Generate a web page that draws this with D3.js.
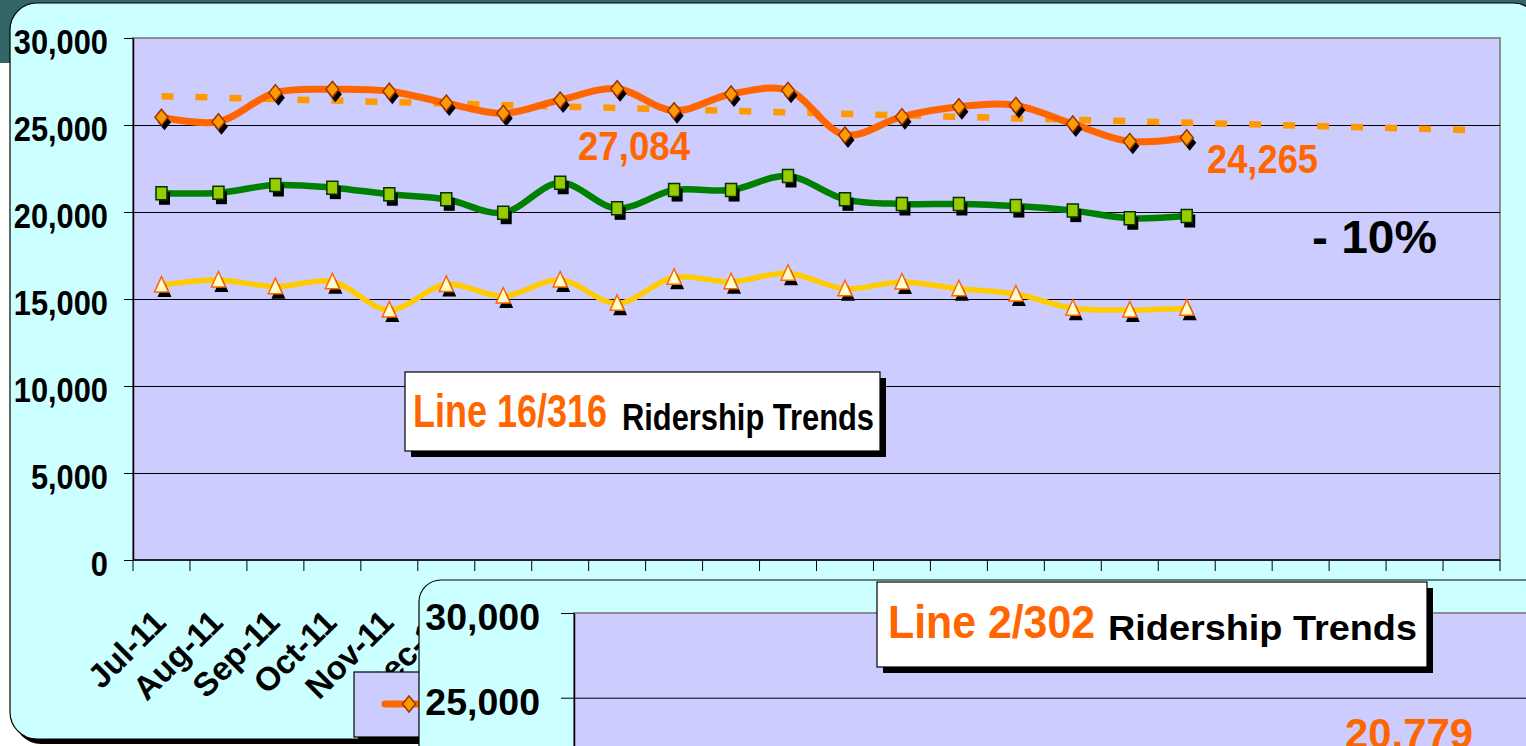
<!DOCTYPE html>
<html>
<head>
<meta charset="utf-8">
<script src="https://cdn.jsdelivr.net/npm/d3@7/dist/d3.min.js"></script>
<style>
  html, body { margin: 0; padding: 0; background: #fff; overflow: hidden; }
  svg { display: block; font-family: "Liberation Sans", Arial, sans-serif; font-weight: bold; }
</style>
</head>
<body>
<svg id="slide" width="1526" height="746"></svg>
<script>
// x categories of the top chart
var months = ["Jul-11", "Aug-11", "Sep-11", "Oct-11", "Nov-11", "Dec-11", "Jan-12", "Feb-12",
    "Mar-12", "Apr-12", "May-12", "Jun-12", "Jul-12", "Aug-12", "Sep-12", "Oct-12", "Nov-12",
    "Dec-12", "Jan-13", "Feb-13", "Mar-13", "Apr-13", "May-13", "Jun-13"];

// monthly riders (Jul-11 .. Jan-13)
var orangeVals = [25450, 25190, 26860, 27050, 26940, 26260, 25670, 26440, 27084, 25820,
    26780, 26990, 24430, 25480, 26050, 26130, 25060, 24060, 24265];
var greenVals = [21075, 21110, 21550, 21400, 21020, 20730, 19960, 21680, 20210, 21260,
    21260, 22070, 20730, 20460, 20460, 20340, 20080, 19640, 19770];
var yellowVals = [15800, 16090, 15710, 15990, 14370, 15840, 15170, 16090, 14750, 16250,
    15990, 16480, 15590, 15980, 15590, 15290, 14470, 14370, 14470];

var yTicks = [0, 5000, 10000, 15000, 20000, 25000, 30000];
var forecastMonths = 5;   // trendline runs this many months past the data

// second (lower) chart, only its top is on screen
var yTicks2 = [25000, 30000];
var lastValue2 = 20779;

var svg = d3.select("#slide");
var fmt = d3.format(",");

// squeeze text horizontally (the slide text is narrow)
function squeeze(sel, k) {
    sel.each(function () {
        this.setAttribute("textLength", this.getComputedTextLength() * k);
        this.setAttribute("lengthAdjust", "spacingAndGlyphs");
    });
}

function card(x, y, w, h, r) {
    svg.append("rect").attr("x", x + 4).attr("y", y + 5).attr("width", w).attr("height", h)
        .attr("rx", r).attr("fill", "#000");
    svg.append("rect").attr("x", x).attr("y", y).attr("width", w).attr("height", h)
        .attr("rx", r).attr("fill", "#CCFFFF").attr("stroke", "#000").attr("stroke-width", 1.2);
}

function titleBox(x, y, w, h, red, black) {
    svg.append("rect").attr("x", x + 6).attr("y", y + 6).attr("width", w).attr("height", h).attr("fill", "#000");
    svg.append("rect").attr("x", x).attr("y", y).attr("width", w).attr("height", h)
        .attr("fill", "#fff").attr("stroke", "#000").attr("stroke-width", 1.2);
    svg.append("text").attr("x", red.x).attr("y", red.y).style("font-size", red.size + "px")
        .attr("fill", "#FF6600").attr("textLength", red.w).attr("lengthAdjust", "spacingAndGlyphs").text(red.t);
    svg.append("text").attr("x", black.x).attr("y", black.y).style("font-size", black.size + "px")
        .attr("fill", "#000").attr("textLength", black.w).attr("lengthAdjust", "spacingAndGlyphs").text(black.t);
}

// slide title bar
svg.append("rect").attr("width", 1526).attr("height", 63).attr("fill", "#336666");

// ---------- chart 1 ----------
card(10, 3, 1530, 736, 27);

var x = d3.scaleBand().domain(months).range([133, 1500]);
var y = d3.scaleLinear().domain([0, 30000]).range([560, 38]);
var cx = function (d, i) { return x(months[i]) + x.bandwidth() / 2; };

svg.append("rect").attr("x", 133).attr("y", 38).attr("width", 1367).attr("height", 522)
    .attr("fill", "#CCCCFF").attr("stroke", "#8c8c8c").attr("stroke-width", 2);

// gridlines
svg.append("g").attr("transform", "translate(133,0)")
    .call(d3.axisLeft(y).tickValues(yTicks.slice(1, -1)).tickSize(-1367).tickFormat(""))
    .call(function (g) { g.select(".domain").remove(); })
    .selectAll("line").attr("stroke", "#000");

// y axis
var yAxis = svg.append("g").attr("transform", "translate(133,0)")
    .call(d3.axisLeft(y).tickValues(yTicks).tickFormat(fmt).tickSize(9).tickSizeOuter(0).tickPadding(16));
yAxis.select(".domain").attr("stroke", "#000").attr("stroke-width", 1.5);
yAxis.selectAll("text").style("font-size", "35px").attr("fill", "#000").attr("dy", "0.44em")
    .style("font-family", "inherit").style("font-weight", "bold");
squeeze(yAxis.selectAll("text"), 0.88);

// x axis with ticks between categories
svg.append("line").attr("x1", 133).attr("x2", 1500).attr("y1", 560).attr("y2", 560)
    .attr("stroke", "#000").attr("stroke-width", 1.5);
svg.append("g").selectAll("line")
    .data(months.concat(["end"])).enter().append("line")
    .attr("x1", function (d) { return d === "end" ? x.range()[1] : x(d); })
    .attr("x2", function (d) { return d === "end" ? x.range()[1] : x(d); })
    .attr("y1", 560).attr("y2", 571).attr("stroke", "#000");

svg.append("g").selectAll("text")
    .data(months).enter().append("text")
    .attr("text-anchor", "end")
    .attr("transform", function (d) { return "translate(" + (x(d) + x.bandwidth() / 2 - 2) + ",616) rotate(-45)"; })
    .attr("dy", "0.35em")
    .style("font-size", "33px")
    .text(function (d) { return d; });

// linear trendline from the orange series, carried forward
var n = orangeVals.length;
var xm = d3.mean(orangeVals, function (d, i) { return i; });
var ym = d3.mean(orangeVals);
var sxy = d3.sum(orangeVals, function (d, i) { return (i - xm) * (d - ym); });
var sxx = d3.sum(orangeVals, function (d, i) { return (i - xm) * (i - xm); });
var slope = sxy / sxx;
var trendEnds = [0, n - 1 + forecastMonths];
svg.append("line")
    .attr("x1", x(months[trendEnds[0]]) + x.bandwidth() / 2)
    .attr("x2", x(months[trendEnds[1]]) + x.bandwidth() / 2)
    .attr("y1", y(ym + slope * (trendEnds[0] - xm)))
    .attr("y2", y(ym + slope * (trendEnds[1] - xm)))
    .attr("stroke", "#FF9900").attr("stroke-width", 6.5).attr("stroke-dasharray", "12,22");

var line = d3.line()
    .x(cx)
    .y(function (d) { return y(d); })
    .curve(d3.curveCatmullRom.alpha(0.5));

var series = [
    { vals: orangeVals, color: "#FF6600", width: 7, shape: "M0,-8L6.5,0L0,8L-6.5,0Z", fill: "#FF9900", edge: "#993300" },
    { vals: greenVals, color: "#008000", width: 6.5, shape: "M-5.5,-6.5H5.5V6.5H-5.5Z", fill: "#99CC00", edge: "#003300" },
    { vals: yellowVals, color: "#FFCC00", width: 5.5, shape: "M0,-8.5L7,7L-7,7Z", fill: "#FFFFCC", edge: "#FF6600" }
];

series.forEach(function (s) {
    svg.append("path").datum(s.vals).attr("d", line)
        .attr("fill", "none").attr("stroke", s.color).attr("stroke-width", s.width);
});

series.forEach(function (s) {
    var g = svg.append("g");
    // marker shadows
    g.selectAll(".shadow").data(s.vals).enter().append("path")
        .attr("d", s.shape).attr("fill", "#000")
        .attr("transform", function (d, i) { return "translate(" + (cx(d, i) + 3) + "," + (y(d) + 5) + ")"; });
    g.selectAll(".mark").data(s.vals).enter().append("path")
        .attr("d", s.shape).attr("fill", s.fill).attr("stroke", s.edge).attr("stroke-width", 1.5)
        .attr("transform", function (d, i) { return "translate(" + cx(d, i) + "," + y(d) + ")"; });
});

// value labels
svg.append("text").attr("x", 578).attr("y", 160).style("font-size", "40px").attr("fill", "#FF6600")
    .attr("textLength", 112).attr("lengthAdjust", "spacingAndGlyphs").text(fmt(d3.max(orangeVals)));
svg.append("text").attr("x", 1207).attr("y", 173).style("font-size", "40px").attr("fill", "#FF6600")
    .attr("textLength", 111).attr("lengthAdjust", "spacingAndGlyphs").text(fmt(orangeVals[n - 1]));
svg.append("text").attr("x", 1312).attr("y", 253).style("font-size", "47px").attr("fill", "#000")
    .attr("textLength", 125).attr("lengthAdjust", "spacingAndGlyphs").text("- 10%");

titleBox(405, 372, 475, 79,
    { x: 413, y: 427, size: 46, w: 194, t: "Line 16/316" },
    { x: 622, y: 430, size: 37, w: 252, t: "Ridership Trends" });

// legend (mostly hidden behind chart 2)
svg.append("rect").attr("x", 358).attr("y", 677).attr("width", 110).attr("height", 65).attr("fill", "#000");
svg.append("rect").attr("x", 354).attr("y", 672).attr("width", 110).attr("height", 65)
    .attr("fill", "#CCCCFF").attr("stroke", "#000").attr("stroke-width", 1.2);
svg.append("line").attr("x1", 385).attr("x2", 440).attr("y1", 704).attr("y2", 704)
    .attr("stroke", series[0].color).attr("stroke-width", 7).attr("stroke-linecap", "round");
svg.append("path").attr("d", series[0].shape).attr("fill", series[0].fill).attr("stroke", series[0].edge)
    .attr("stroke-width", 1.5).attr("transform", "translate(409,704)");

// ---------- chart 2 ----------
card(419, 580, 1200, 300, 22);

var y2 = d3.scaleLinear().domain([0, 30000]).range([613 + 6 * 84.7, 613]);

svg.append("rect").attr("x", 574).attr("y", 613).attr("width", 1000).attr("height", 300)
    .attr("fill", "#CCCCFF").attr("stroke", "#8c8c8c").attr("stroke-width", 2);

svg.append("g").attr("transform", "translate(574,0)")
    .call(d3.axisLeft(y2).tickValues(yTicks2.slice(0, 1)).tickSize(-1000).tickFormat(""))
    .call(function (g) { g.select(".domain").remove(); })
    .selectAll("line").attr("stroke", "#000");

var yAxis2 = svg.append("g").attr("transform", "translate(574,0)")
    .call(d3.axisLeft(y2).tickValues(yTicks2).tickFormat(fmt).tickSize(13).tickSizeOuter(0).tickPadding(21));
yAxis2.select(".domain").attr("stroke", "#000").attr("stroke-width", 1.5);
yAxis2.selectAll("text").style("font-size", "37.5px").attr("fill", "#000").attr("dy", "0.45em")
    .style("font-family", "inherit").style("font-weight", "bold");

titleBox(877, 582, 550, 85,
    { x: 888, y: 638, size: 46, w: 207, t: "Line 2/302" },
    { x: 1108, y: 640, size: 35, w: 309, t: "Ridership Trends" });

svg.append("text").attr("x", 1345).attr("y", 748).style("font-size", "43px").attr("fill", "#FF6600")
    .attr("textLength", 128).attr("lengthAdjust", "spacingAndGlyphs").text(fmt(lastValue2));
</script>
</body>
</html>
